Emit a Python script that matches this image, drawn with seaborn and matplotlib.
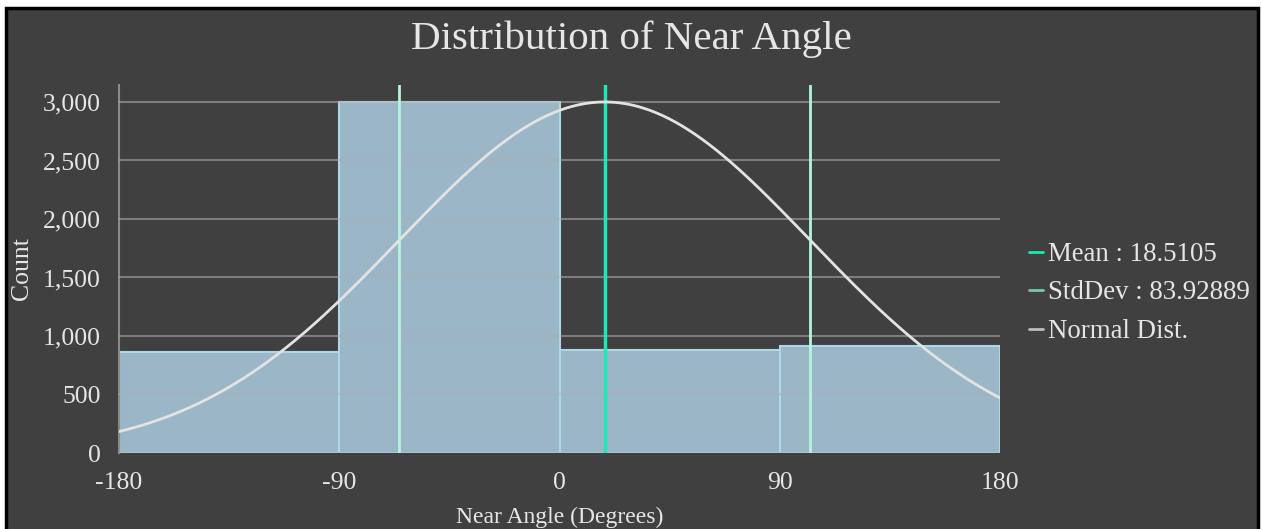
"""
plot.py - Distribution of Near Angle (histogram + normal curve)
"""

import numpy as np
import pandas as pd
import matplotlib
matplotlib.use("Agg")
import matplotlib.pyplot as plt
from matplotlib.patches import Rectangle
from matplotlib.lines import Line2D
import seaborn as sns

# datos
bin_edges = [-180, -90, 0, 90, 180]
bin_counts = [865, 3000, 882, 915]
x_ticks = [-180, -90, 0, 90, 180]
y_ticks = [0, 500, 1000, 1500, 2000, 2500, 3000]
mean_val = 18.5105
std_val = 83.92889
curve_peak = 3000

BG = "#404040"
TXT = "#e6e6e6"
BAR = "#9ab6c7"
BAR_EDGE = "#add8e6"
MEAN_C = "#1de9b6"
STD_C = "#b4f5dc"
CURVE_C = "#e3e3e3"

sns.set_theme(style="dark")
plt.rcParams["font.family"] = ["Liberation Serif", "DejaVu Serif"]

fig = plt.figure(figsize=(12.63, 5.29), dpi=100, facecolor="white")
fig.add_artist(Rectangle((6 / 1263, -0.01), (1258 - 6) / 1263, 1.01 - 8 / 529,
                         transform=fig.transFigure, facecolor=BG,
                         edgecolor="black", linewidth=2.5, zorder=0))
ax = fig.add_axes([119 / 1263, 1 - 453 / 529, (1000 - 119) / 1263, (453 - 85) / 529])
ax.set_facecolor(BG)

df = pd.DataFrame({
    "centro": [(a + b) / 2 for a, b in zip(bin_edges[:-1], bin_edges[1:])],
    "conteo": bin_counts,
})
sns.histplot(data=df, x="centro", weights="conteo", bins=bin_edges, ax=ax,
             color=BAR, edgecolor=BAR_EDGE, linewidth=1.5, alpha=1, zorder=1)

# curva normal con la media / desviacion mostradas
xs = np.linspace(bin_edges[0], bin_edges[-1], 400)
ys = curve_peak * np.exp(-0.5 * ((xs - mean_val) / std_val) ** 2)
sns.lineplot(x=xs, y=ys, ax=ax, color=CURVE_C, linewidth=2, zorder=4)

ax.axvline(mean_val, color=MEAN_C, linewidth=2.5, zorder=3)
ax.axvline(mean_val - std_val, color=STD_C, linewidth=2, zorder=3)
ax.axvline(mean_val + std_val, color=STD_C, linewidth=2, zorder=3)

ax.set_xlim(-180, 180)
ax.set_ylim(0, 3145)
ax.set_xticks(x_ticks)
ax.set_xticklabels([str(t) for t in x_ticks])
ax.set_yticks(y_ticks)
ax.set_yticklabels([f"{t:,}" for t in y_ticks])
ax.tick_params(axis="both", colors=TXT, labelsize=18.5)
ax.tick_params(axis="x", pad=9, length=5, width=1, color="#8a8a8a")
ax.tick_params(axis="y", pad=13, length=0)
ax.grid(axis="y", color="#b0b0b0", alpha=0.55, linewidth=1.5)
ax.grid(axis="x", visible=False)
ax.set_axisbelow(False)
for s in ["top", "right", "bottom"]:
    ax.spines[s].set_visible(False)
ax.spines["left"].set_color("#8a8a8a")
ax.spines["left"].set_linewidth(1.5)

ax.set_xlabel("Near Angle (Degrees)", color=TXT, fontsize=17, labelpad=9)
ax.set_ylabel("Count", color=TXT, fontsize=18.5, labelpad=7)

fig.text(0.5, 1 - 39 / 529, "Distribution of Near Angle", ha="center",
         va="center", color=TXT, fontsize=29.5)

handles = [
    Line2D([], [], color=MEAN_C, linewidth=2),
    Line2D([], [], color="#7fc4ae", linewidth=2),
    Line2D([], [], color="#bdbdbd", linewidth=2),
]
labels = [f"Mean : {mean_val}", f"StdDev : {std_val}", "Normal Dist."]
fig.legend(handles, labels, loc="center left", bbox_to_anchor=(1029 / 1263, 1 - 293 / 529),
           frameon=False, fontsize=19.4, labelcolor=TXT, handlelength=0.52,
           handletextpad=0.18, labelspacing=0.5, borderaxespad=0, borderpad=0)

fig.savefig("out.png", dpi=100, facecolor=fig.get_facecolor())
